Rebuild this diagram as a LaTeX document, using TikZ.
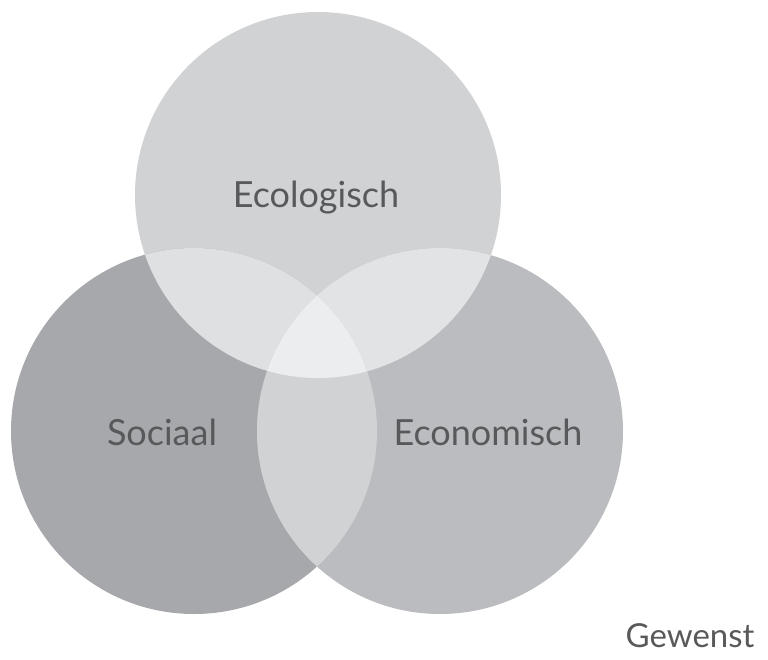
\documentclass[tikz,border=0pt]{standalone}
\usepackage{fontspec}
\setmainfont{Lato}
\definecolor{cTop}{HTML}{D1D2D4}
\definecolor{cLeft}{HTML}{A7A8AB}
\definecolor{cRight}{HTML}{BBBCBF}
\definecolor{cTL}{HTML}{DFE0E2}
\definecolor{cTR}{HTML}{E2E3E5}
\definecolor{cLR}{HTML}{D1D2D4}
\definecolor{cAll}{HTML}{ECEDEF}
\definecolor{txt}{HTML}{58595B}
\tikzset{
  lbl/.style={text=txt, font=\fontsize{36}{42}\selectfont, inner sep=0pt, anchor=base},
}
\begin{document}
\begin{tikzpicture}[x=1pt,y=-1pt]
\useasboundingbox (0,0) rectangle (768,659);
\coordinate (T) at (318,195);
\coordinate (L) at (194,431);
\coordinate (R) at (440,431);
\def\rr{183}
\fill[cTop] (T) circle (\rr);
\fill[cLeft] (L) circle (\rr);
\fill[cRight] (R) circle (\rr);
\begin{scope}
  \clip (T) circle (\rr);
  \fill[cTL] (L) circle (\rr);
  \fill[cTR] (R) circle (\rr);
\end{scope}
\begin{scope}
  \clip (L) circle (\rr);
  \fill[cLR] (R) circle (\rr);
  \clip (R) circle (\rr);
  \fill[cAll] (T) circle (\rr);
\end{scope}
\node[lbl] (eco) at (316,207) {Ecologisch};
\node[lbl] (soc) at (162,445) {Sociaal};
\node[lbl] (econ) at (488,445) {Economisch};
\node[lbl, font=\fontsize{33}{40}\selectfont] (gew) at (690,647) {Gewenst};
\end{tikzpicture}
\end{document}
